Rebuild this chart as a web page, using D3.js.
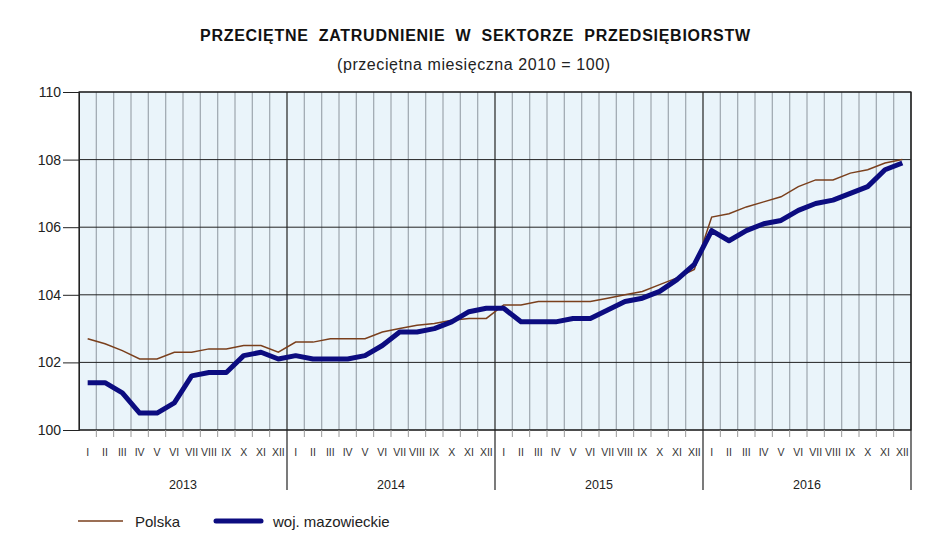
<!DOCTYPE html>
<html lang="pl">
<head>
<meta charset="utf-8">
<script src="https://d3js.org/d3.v7.min.js"></script>
<style>
  body { margin: 0; background: #fff; }
  text { font-family: "Liberation Sans", Arial, sans-serif; fill: #222; }
  .title { font-weight: bold; font-size: 16px; word-spacing: 5px; fill: #111; }
  .subtitle { font-size: 16px; }
  .mon { font-size: 10.5px; fill: #333; }
  .yr { font-size: 12.5px; }
  .leg { font-size: 15px; }
</style>
</head>
<body>
<svg width="952" height="542"></svg>
<script>

// dane
var months = ["I","II","III","IV","V","VI","VII","VIII","IX","X","XI","XII"];
var years = [2013, 2014, 2015, 2016];
var yTicks = [100, 102, 104, 106, 108, 110];

var polska = [
  102.7, 102.55, 102.35, 102.1, 102.1, 102.3, 102.3, 102.4, 102.4, 102.5, 102.5, 102.3,
  102.6, 102.6, 102.7, 102.7, 102.7, 102.9, 103.0, 103.1, 103.15, 103.25, 103.3, 103.3,
  103.7, 103.7, 103.8, 103.8, 103.8, 103.8, 103.9, 104.0, 104.1, 104.3, 104.5, 104.75,
  106.3, 106.4, 106.6, 106.75, 106.9, 107.2, 107.4, 107.4, 107.6, 107.7, 107.9, 108.0
];
var mazowieckie = [
  101.4, 101.4, 101.1, 100.5, 100.5, 100.8, 101.6, 101.7, 101.7, 102.2, 102.3, 102.1,
  102.2, 102.1, 102.1, 102.1, 102.2, 102.5, 102.9, 102.9, 103.0, 103.2, 103.5, 103.6,
  103.6, 103.2, 103.2, 103.2, 103.3, 103.3, 103.55, 103.8, 103.9, 104.1, 104.45, 104.9,
  105.9, 105.6, 105.9, 106.1, 106.2, 106.5, 106.7, 106.8, 107.0, 107.2, 107.7, 107.9
];

var svg = d3.select("svg"),
    pLeft = 79, pRight = 911, pTop = 92, pBottom = 430;

var n = years.length * months.length;
var x = d3.scaleLinear().domain([0, n]).range([pLeft, pRight]);
var y = d3.scaleLinear().domain([100, 110]).range([pBottom, pTop]);

// tytuł
svg.append("text").attr("class", "title")
    .attr("x", 200).attr("y", 41)
    .attr("textLength", 550).attr("lengthAdjust", "spacing")
    .text("PRZECIĘTNE ZATRUDNIENIE W SEKTORZE PRZEDSIĘBIORSTW");
svg.append("text").attr("class", "subtitle")
    .attr("x", 337).attr("y", 70)
    .attr("textLength", 273).attr("lengthAdjust", "spacing")
    .text("(przeciętna miesięczna 2010 = 100)");

// tło
svg.append("rect")
    .attr("x", pLeft).attr("y", pTop)
    .attr("width", pRight - pLeft).attr("height", pBottom - pTop)
    .attr("fill", "#eaf4fa");

// siatka pionowa (miesiące)
var bounds = d3.range(1, n).filter(function(i) { return i % 12 != 0; });
svg.append("g").selectAll("line")
    .data(bounds)
    .enter().append("line")
    .attr("x1", function(i) { return x(i); }).attr("x2", function(i) { return x(i); })
    .attr("y1", pTop).attr("y2", pBottom)
    .attr("stroke", "#a3acb4").attr("stroke-width", 1.3);

// siatka pozioma
svg.append("g").selectAll("line")
    .data(yTicks)
    .enter().append("line")
    .attr("x1", pLeft).attr("x2", pRight)
    .attr("y1", function(d) { return y(d); }).attr("y2", function(d) { return y(d); })
    .attr("stroke", "#222").attr("stroke-width", 1);

// granice lat
svg.append("g").selectAll("line")
    .data(d3.range(1, years.length + 1))
    .enter().append("line")
    .attr("x1", function(k) { return x(k * 12); }).attr("x2", function(k) { return x(k * 12); })
    .attr("y1", pTop).attr("y2", 490)
    .attr("stroke", "#222").attr("stroke-width", 1.2);

// ramka
svg.append("rect")
    .attr("x", pLeft).attr("y", pTop)
    .attr("width", pRight - pLeft).attr("height", pBottom - pTop)
    .attr("fill", "none").attr("stroke", "#222").attr("stroke-width", 1.2);

// oś Y
var yAxis = svg.append("g")
    .attr("transform", "translate(" + pLeft + ",0)")
    .call(d3.axisLeft(y).tickValues(yTicks).tickSize(16).tickPadding(2).tickFormat(d3.format("d")));
yAxis.select(".domain").attr("stroke", "#222");
yAxis.selectAll(".tick line").attr("stroke", "#222");
yAxis.selectAll("text")
    .style("font-size", "14px")
    .style("font-family", "'Liberation Sans', Arial, sans-serif")
    .attr("fill", "#222");

// znaczniki miesięcy pod osią
svg.append("g").selectAll("line")
    .data(bounds)
    .enter().append("line")
    .attr("x1", function(i) { return x(i); }).attr("x2", function(i) { return x(i); })
    .attr("y1", pBottom).attr("y2", pBottom + 7)
    .attr("stroke", "#999").attr("stroke-width", 1);

// etykiety miesięcy
svg.append("g").selectAll("text")
    .data(d3.range(n))
    .enter().append("text").attr("class", "mon")
    .attr("x", function(i) { return x(i + 0.5); })
    .attr("y", 456)
    .attr("text-anchor", "middle")
    .text(function(i) { return months[i % 12]; });

// etykiety lat
svg.append("g").selectAll("text")
    .data(years)
    .enter().append("text").attr("class", "yr")
    .attr("x", function(d, k) { return x(k * 12 + 6); })
    .attr("y", 489)
    .attr("text-anchor", "middle")
    .text(function(d) { return d; });

// linie
var line = d3.line()
    .x(function(d, i) { return x(i + 0.5); })
    .y(function(d) { return y(d); });

svg.append("path").datum(polska)
    .attr("d", line)
    .attr("fill", "none").attr("stroke", "#7a3f1c").attr("stroke-width", 1.5);

svg.append("path").datum(mazowieckie)
    .attr("d", line)
    .attr("fill", "none").attr("stroke", "#0c0c80").attr("stroke-width", 5)
    .attr("stroke-linejoin", "round");

// legenda
var leg = svg.append("g");
leg.append("line").attr("x1", 78).attr("x2", 123).attr("y1", 521).attr("y2", 521)
    .attr("stroke", "#7a3f1c").attr("stroke-width", 1.5);
leg.append("text").attr("class", "leg").attr("x", 135).attr("y", 527).text("Polska");
leg.append("line").attr("x1", 216).attr("x2", 261).attr("y1", 521).attr("y2", 521)
    .attr("stroke", "#0c0c80").attr("stroke-width", 5).attr("stroke-linecap", "round");
leg.append("text").attr("class", "leg").attr("x", 273).attr("y", 527).text("woj. mazowieckie");

</script>
</body>
</html>
